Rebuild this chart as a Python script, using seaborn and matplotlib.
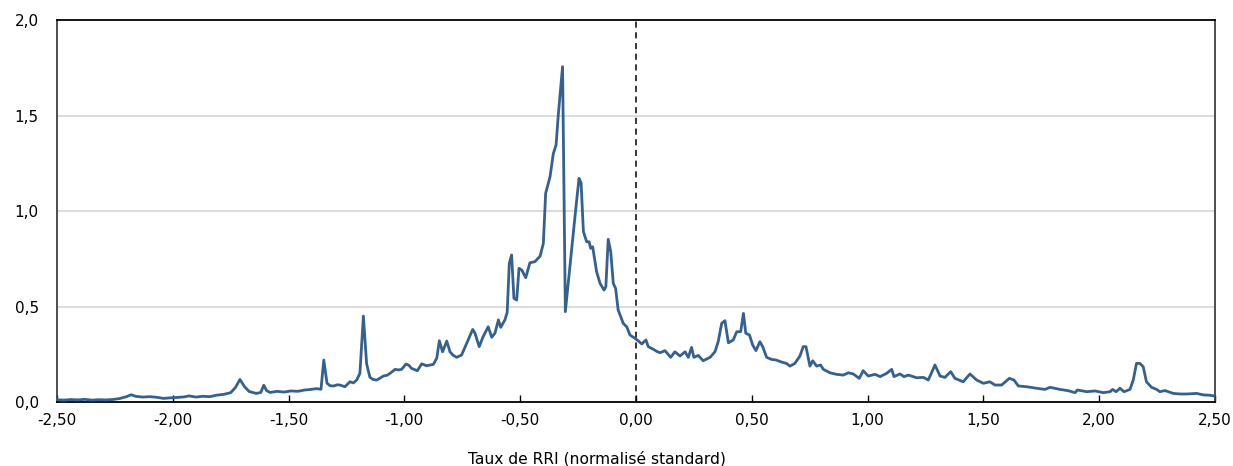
import matplotlib
matplotlib.use("Agg")
import matplotlib.pyplot as plt
import seaborn as sns
import pandas as pd
from matplotlib.ticker import FuncFormatter, MultipleLocator

# Données
x_vals = [-2.50, -2.47, -2.44, -2.41, -2.38, -2.35, -2.32, -2.29, -2.26, -2.23,
          -2.20, -2.18, -2.16, -2.13, -2.10, -2.07, -2.04, -2.01, -1.98, -1.95,
          -1.93, -1.90, -1.87, -1.84, -1.81, -1.78, -1.75, -1.73, -1.71, -1.69,
          -1.67, -1.64, -1.62, -1.607, -1.595, -1.58, -1.55, -1.52, -1.49, -1.46,
          -1.43, -1.41, -1.38, -1.36, -1.348, -1.334, -1.32, -1.305, -1.29, -1.278,
          -1.257, -1.235, -1.22, -1.206, -1.192, -1.177, -1.163, -1.149, -1.135, -1.12,
          -1.105, -1.091, -1.075, -1.062, -1.04, -1.025, -1.012, -0.993, -0.98, -0.969,
          -0.944, -0.925, -0.904, -0.875, -0.86, -0.849, -0.835, -0.817, -0.803, -0.79,
          -0.774, -0.753, -0.731, -0.705, -0.695, -0.677, -0.66, -0.638, -0.623, -0.609,
          -0.594, -0.584, -0.566, -0.556, -0.547, -0.537, -0.527, -0.515, -0.505, -0.493,
          -0.476, -0.458, -0.436, -0.414, -0.40, -0.39, -0.371, -0.357, -0.345, -0.335,
          -0.317, -0.305, -0.278, -0.259, -0.246, -0.237, -0.227, -0.213, -0.202, -0.196,
          -0.187, -0.17, -0.155, -0.138, -0.13, -0.12, -0.109, -0.098, -0.088, -0.077,
          -0.055, -0.04, -0.026, -0.004, 0.01, 0.025, 0.043, 0.053, 0.075, 0.09,
          0.104, 0.125, 0.15, 0.168, 0.19, 0.212, 0.226, 0.24, 0.25, 0.269,
          0.29, 0.32, 0.341, 0.355, 0.37, 0.384, 0.399, 0.42, 0.435, 0.452,
          0.464, 0.474, 0.49, 0.504, 0.518, 0.535, 0.547, 0.564, 0.586, 0.605,
          0.629, 0.65, 0.665, 0.686, 0.708, 0.722, 0.734, 0.751, 0.763, 0.78,
          0.797, 0.809, 0.838, 0.866, 0.895, 0.917, 0.938, 0.964, 0.981, 1.003,
          1.032, 1.054, 1.082, 1.104, 1.114, 1.14, 1.157, 1.176, 1.212, 1.241,
          1.262, 1.291, 1.313, 1.334, 1.359, 1.377, 1.413, 1.442, 1.471, 1.50,
          1.528, 1.55, 1.579, 1.612, 1.632, 1.651, 1.687, 1.73, 1.766, 1.788,
          1.831, 1.867, 1.896, 1.906, 1.946, 1.982, 2.018, 2.047, 2.058, 2.073,
          2.09, 2.107, 2.133, 2.147, 2.161, 2.176, 2.19, 2.204, 2.226, 2.248,
          2.262, 2.284, 2.32, 2.35, 2.378, 2.421, 2.45, 2.475, 2.50]

densite = [0.012, 0.010, 0.013, 0.011, 0.014, 0.010, 0.012, 0.011, 0.013, 0.018,
           0.028, 0.038, 0.030, 0.026, 0.028, 0.025, 0.019, 0.022, 0.024, 0.027,
           0.032, 0.026, 0.030, 0.028, 0.036, 0.040, 0.049, 0.075, 0.118, 0.080,
           0.055, 0.045, 0.050, 0.088, 0.060, 0.050, 0.056, 0.052, 0.058, 0.056,
           0.063, 0.065, 0.070, 0.067, 0.22, 0.098, 0.085, 0.084, 0.090, 0.089,
           0.080, 0.106, 0.100, 0.115, 0.15, 0.45, 0.20, 0.13, 0.118, 0.115,
           0.125, 0.136, 0.14, 0.15, 0.171, 0.168, 0.171, 0.199, 0.192, 0.176,
           0.164, 0.20, 0.19, 0.197, 0.23, 0.321, 0.263, 0.319, 0.263, 0.245,
           0.234, 0.246, 0.307, 0.38, 0.36, 0.29, 0.342, 0.394, 0.339, 0.36,
           0.43, 0.391, 0.43, 0.47, 0.726, 0.77, 0.543, 0.534, 0.70, 0.691,
           0.651, 0.729, 0.735, 0.764, 0.83, 1.093, 1.18, 1.30, 1.346, 1.51,
           1.756, 0.473, 0.796, 1.023, 1.171, 1.148, 0.892, 0.839, 0.839, 0.805,
           0.813, 0.682, 0.621, 0.586, 0.604, 0.852, 0.787, 0.621, 0.595, 0.482,
           0.412, 0.394, 0.351, 0.333, 0.32, 0.304, 0.325, 0.29, 0.276, 0.265,
           0.258, 0.269, 0.234, 0.263, 0.241, 0.263, 0.234, 0.286, 0.234, 0.244,
           0.216, 0.234, 0.263, 0.316, 0.412, 0.426, 0.31, 0.325, 0.368, 0.368,
           0.464, 0.36, 0.351, 0.298, 0.269, 0.316, 0.29, 0.234, 0.223, 0.22,
           0.209, 0.202, 0.188, 0.202, 0.241, 0.29, 0.29, 0.188, 0.216, 0.188,
           0.194, 0.171, 0.153, 0.145, 0.141, 0.153, 0.147, 0.124, 0.164, 0.136,
           0.145, 0.133, 0.15, 0.171, 0.133, 0.147, 0.133, 0.141, 0.127, 0.129,
           0.115, 0.194, 0.136, 0.129, 0.159, 0.124, 0.106, 0.147, 0.115, 0.098,
           0.106, 0.089, 0.089, 0.124, 0.115, 0.084, 0.080, 0.072, 0.066, 0.077,
           0.066, 0.059, 0.049, 0.063, 0.054, 0.058, 0.049, 0.054, 0.066, 0.054,
           0.072, 0.054, 0.066, 0.115, 0.202, 0.202, 0.185, 0.106, 0.077, 0.066,
           0.054, 0.060, 0.045, 0.042, 0.042, 0.045, 0.037, 0.036, 0.031]

df = pd.DataFrame({"x": x_vals, "y": densite})

sns.set_theme(style="white")
plt.rcParams['font.family'] = ['DejaVu Sans']

fig = plt.figure(figsize=(12.33, 4.66), dpi=100)
ax = fig.add_axes([0.0462, 0.1373, 0.9392, 0.8197])

sns.lineplot(data=df, x="x", y="y", ax=ax, color="#34618f", linewidth=2.0,
             estimator=None, sort=False, zorder=3)

# Ligne verticale en 0
ax.axvline(0, color="black", linestyle=(0, (4, 3)), linewidth=1.1, zorder=2)

ax.set_xlim(-2.5, 2.5)
ax.set_ylim(0, 2.0)
ax.xaxis.set_major_locator(MultipleLocator(0.5))
ax.yaxis.set_major_locator(MultipleLocator(0.5))
ax.xaxis.set_major_formatter(FuncFormatter(lambda v, p: f"{v:.2f}".replace(".", ",")))
ax.yaxis.set_major_formatter(FuncFormatter(lambda v, p: f"{v:.1f}".replace(".", ",")))

for yv in [0.5, 1.0, 1.5]:
    ax.axhline(yv, color="#d9d9d9", linewidth=1.3, zorder=1)

ax.tick_params(axis="x", direction="in", length=5, width=1, colors="black",
               labelsize=11, pad=8, bottom=True)
ax.tick_params(axis="y", length=0, labelsize=11, pad=13, labelcolor="black")

for side in ["top", "bottom"]:
    ax.spines[side].set_color("black")
    ax.spines[side].set_linewidth(1.3)
for side in ["left", "right"]:
    ax.spines[side].set_color("#404040")
    ax.spines[side].set_linewidth(1.3)

ax.set_xlabel("")
ax.set_ylabel("")
fig.text(0.484, 0.016, "Taux de RRI (normalisé standard)", ha="center", va="center",
         fontsize=11.2, color="black")

fig.savefig("out.png", dpi=100)
